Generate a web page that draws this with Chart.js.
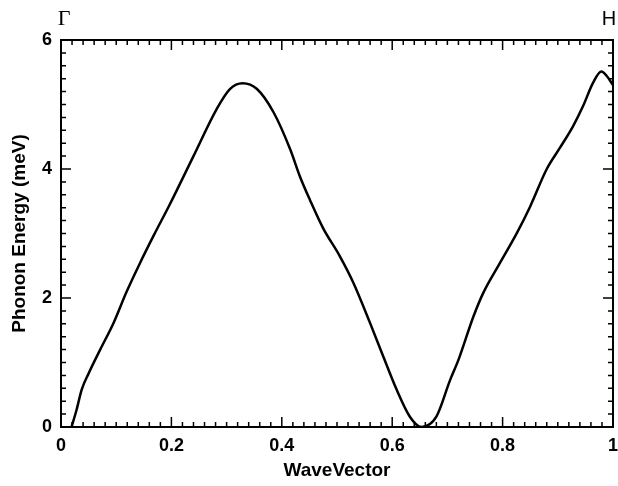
<!DOCTYPE html>
<html>
<head>
<meta charset="utf-8">
<script src="https://cdn.jsdelivr.net/npm/chart.js@4"></script>
<style>
  html, body { margin: 0; padding: 0; background: #fff; }
  canvas { display: block; }
</style>
</head>
<body>
<canvas id="phononChart" width="618" height="486"></canvas>
<script>
// Wave vector positions along the Gamma -> H path
const waveVector = [
    0.019, 0.028, 0.0375, 0.05, 0.071, 0.095, 0.119, 0.143, 0.168, 0.197,
    0.240, 0.282, 0.306, 0.329, 0.355, 0.385, 0.415, 0.433, 0.451, 0.475,
    0.505, 0.530, 0.560, 0.584, 0.608, 0.632, 0.653, 0.680, 0.705, 0.720,
    0.747, 0.765, 0.795, 0.826, 0.850, 0.880, 0.904, 0.928, 0.946, 0.964,
    0.979, 0.988, 1.0
];
// Phonon energy (meV)
const energy = [
    0.0, 0.26, 0.58, 0.83, 1.20, 1.61, 2.10, 2.54, 2.97, 3.45,
    4.20, 4.93, 5.24, 5.33, 5.24, 4.88, 4.31, 3.88, 3.52, 3.08,
    2.65, 2.23, 1.61, 1.09, 0.58, 0.16, 0.0, 0.16, 0.73, 1.04,
    1.71, 2.08, 2.54, 3.01, 3.42, 4.0, 4.33, 4.67, 4.98, 5.34,
    5.51, 5.45, 5.30
];
const xTicks = [0, 0.2, 0.4, 0.6, 0.8, 1];
const yTicks = [0, 2, 4, 6];
const pointLabels = ['Γ', 'H'];

const points = waveVector.map((x, i) => ({ x: x, y: energy[i] }));

// Frame with inward major/minor ticks on all four sides, plus symmetry point labels
const framePlugin = {
    id: 'frame',
    afterDraw(chart) {
        const ctx = chart.ctx;
        const area = chart.chartArea;
        const xs = chart.scales.x;
        const ys = chart.scales.y;
        ctx.save();
        ctx.strokeStyle = '#000';
        ctx.lineWidth = 2;
        ctx.strokeRect(area.left, area.top, area.right - area.left, area.bottom - area.top);

        ctx.lineWidth = 1.5;
        ctx.beginPath();
        for (let i = 0; i <= 50; i++) {
            const v = i * 0.02;
            const px = xs.getPixelForValue(v);
            const len = i % 10 === 0 ? 10 : 5;
            ctx.moveTo(px, area.bottom); ctx.lineTo(px, area.bottom - len);
            ctx.moveTo(px, area.top); ctx.lineTo(px, area.top + len);
        }
        for (let i = 0; i <= 30; i++) {
            const v = i * 0.2;
            const py = ys.getPixelForValue(v);
            const len = i % 10 === 0 ? 10 : 5;
            ctx.moveTo(area.left, py); ctx.lineTo(area.left + len, py);
            ctx.moveTo(area.right, py); ctx.lineTo(area.right - len, py);
        }
        ctx.stroke();

        ctx.fillStyle = '#000';
        ctx.textAlign = 'center';
        ctx.textBaseline = 'alphabetic';
        ctx.font = '22px "Liberation Serif", "Times New Roman", serif';
        ctx.fillText(pointLabels[0], xs.getPixelForValue(0) + 3, 25);
        ctx.font = '20px "Liberation Sans", Arial, sans-serif';
        ctx.fillText(pointLabels[1], xs.getPixelForValue(1) - 4, 25);
        ctx.restore();
    }
};

const labelFont = { family: '"Liberation Sans", Arial, sans-serif', size: 18, weight: 'bold' };
const titleFont = { family: '"Liberation Sans", Arial, sans-serif', size: 19, weight: 'bold' };

new Chart(document.getElementById('phononChart').getContext('2d'), {
    type: 'line',
    data: {
        datasets: [{
            data: points,
            borderColor: '#000',
            borderWidth: 2.5,
            pointRadius: 0,
            fill: false,
            cubicInterpolationMode: 'monotone'
        }]
    },
    options: {
        responsive: false,
        animation: false,
        layout: { padding: { top: 40, right: 5, left: 0, bottom: 0 } },
        plugins: { legend: { display: false }, tooltip: { enabled: false } },
        scales: {
            x: {
                type: 'linear',
                min: 0,
                max: 1,
                afterBuildTicks: axis => { axis.ticks = xTicks.map(v => ({ value: v })); },
                afterFit: axis => {
                    axis.height = 59;
                    axis.paddingLeft = 0;
                    axis.paddingRight = 0;
                },
                grid: { display: false, drawTicks: false },
                border: { display: false },
                ticks: {
                    color: '#000',
                    font: labelFont,
                    padding: 8,
                    maxRotation: 0,
                    callback: v => String(Math.round(v * 10) / 10)
                },
                title: { display: true, text: 'WaveVector', color: '#000', font: titleFont, padding: { top: 2, bottom: 4 } }
            },
            y: {
                min: 0,
                max: 6,
                afterBuildTicks: axis => { axis.ticks = yTicks.map(v => ({ value: v })); },
                afterFit: axis => {
                    axis.width = 61;
                    axis.paddingTop = 0;
                    axis.paddingBottom = 0;
                },
                grid: { display: false, drawTicks: false },
                border: { display: false },
                ticks: { color: '#000', font: labelFont, padding: 9 },
                title: { display: true, text: 'Phonon Energy (meV)', color: '#000', font: titleFont, padding: { top: 8, bottom: 4 } }
            }
        }
    },
    plugins: [framePlugin]
});
</script>
</body>
</html>
